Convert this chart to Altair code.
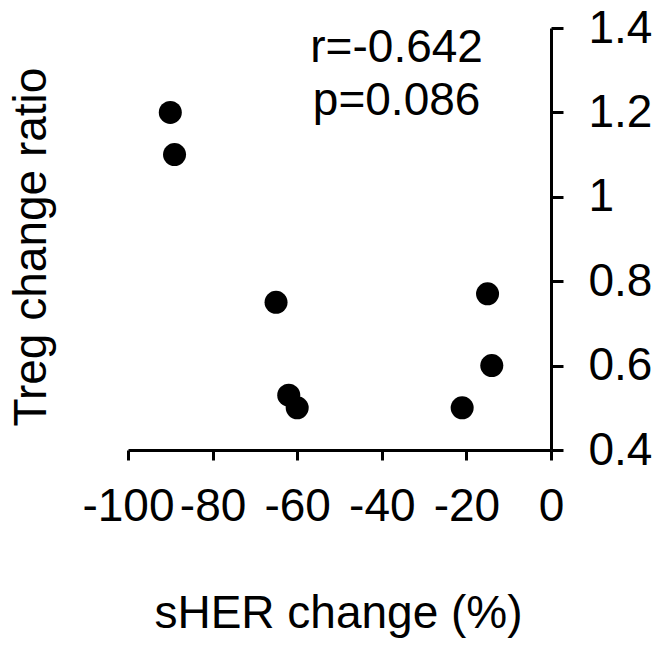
import altair as alt
import pandas as pd

# Data
sher_change = [-90, -89, -65, -62, -60, -21, -15, -14]
treg_ratio = [1.20, 1.10, 0.75, 0.53, 0.50, 0.50, 0.77, 0.60]

x_ticks = [-100, -80, -60, -40, -20, 0]
y_ticks = [0.4, 0.6, 0.8, 1.0, 1.2, 1.4]

stats_text = ["r=-0.642", "p=0.086"]
stats_x = [-36.5, -36.5]
stats_y = [1.319, 1.194]

pts = pd.DataFrame({"x": sher_change, "y": treg_ratio})
ann = pd.DataFrame({"label": stats_text, "x": stats_x, "y": stats_y})

FONT = "Liberation Sans"
FS = 46

xscale = alt.Scale(domain=[-100, 0], nice=False, zero=False)
yscale = alt.Scale(domain=[0.4, 1.4], nice=False, zero=False)

points = alt.Chart(pts).mark_circle(size=530, color="black", opacity=1).encode(
    x=alt.X(
        "x:Q",
        scale=xscale,
        axis=alt.Axis(
            values=x_ticks,
            labelExpr="datum.value + ''",
            title="sHER change (%)",
            titleX=210,
            titleY=177,
            titleBaseline="alphabetic",
            titleAlign="center",
            tickSize=10,
            labelPadding=24,
            labelOverlap=False,
            labelFlush=False,
        ),
    ),
    y=alt.Y(
        "y:Q",
        scale=yscale,
        axis=alt.Axis(
            orient="right",
            values=y_ticks,
            labelExpr="datum.value + ''",
            title="Treg change ratio",
            titleAngle=270,
            titleX=-506,
            titleY=218.5,
            titleBaseline="alphabetic",
            titleAlign="center",
            tickSize=12,
            labelPadding=25,
            labelOverlap=False,
            labelFlush=False,
        ),
    ),
)

text = alt.Chart(ann).mark_text(
    font=FONT, fontSize=FS, color="black", align="center", baseline="alphabetic"
).encode(
    x=alt.X("x:Q", scale=xscale),
    y=alt.Y("y:Q", scale=yscale),
    text="label:N",
)

chart = (
    alt.layer(points, text)
    .properties(
        width=423,
        height=422,
        autosize=alt.AutoSizeParams(type="none"),
        padding={"left": 120, "top": 20, "right": 105, "bottom": 195},
        background="white",
    )
    .configure_view(stroke=None)
    .configure_axis(
        grid=False,
        domainColor="black",
        domainWidth=3,
        tickColor="black",
        tickWidth=3,
        labelFont=FONT,
        labelFontSize=FS,
        labelColor="black",
        titleFont=FONT,
        titleFontSize=FS,
        titleFontWeight="normal",
        titleColor="black",
    )
)

chart.save("out.html", embed_options={"renderer": "svg", "actions": False})
